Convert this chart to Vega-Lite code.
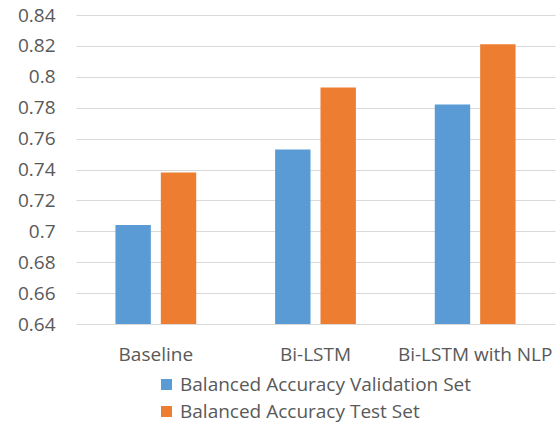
{
  "$schema": "https://vega.github.io/schema/vega-lite/v6.json",
  "autosize": "none",
  "padding": {"left": 76, "top": 15, "right": 5, "bottom": 99},
  "width": 479,
  "height": 309,
  "background": "white",
  "config": {
    "font": "Open Sans",
    "view": {"stroke": null},
    "axis": {"labelFont": "Open Sans", "labelColor": "#595959", "labelFontSize": 19}
  },
  "data": {
    "values": [
      {"model": "Baseline", "set": "Balanced Accuracy Validation Set", "value": 0.704},
      {"model": "Baseline", "set": "Balanced Accuracy Test Set", "value": 0.738},
      {"model": "Bi-LSTM", "set": "Balanced Accuracy Validation Set", "value": 0.753},
      {"model": "Bi-LSTM", "set": "Balanced Accuracy Test Set", "value": 0.793},
      {"model": "Bi-LSTM with NLP", "set": "Balanced Accuracy Validation Set", "value": 0.782},
      {"model": "Bi-LSTM with NLP", "set": "Balanced Accuracy Test Set", "value": 0.821}
    ]
  },
  "mark": {"type": "bar", "clip": true},
  "encoding": {
    "x": {
      "field": "model",
      "type": "nominal",
      "sort": ["Baseline", "Bi-LSTM", "Bi-LSTM with NLP"],
      "scale": {"paddingInner": 0.494, "paddingOuter": 0.247},
      "axis": {"title": null, "labelAngle": 0, "ticks": false, "domain": false, "labelPadding": 21}
    },
    "xOffset": {
      "field": "set",
      "type": "nominal",
      "sort": ["Balanced Accuracy Validation Set", "Balanced Accuracy Test Set"],
      "scale": {"paddingInner": 0.22, "paddingOuter": 0}
    },
    "y": {
      "field": "value",
      "type": "quantitative",
      "scale": {"domain": [0.64, 0.84], "zero": false, "nice": false},
      "axis": {
        "title": null,
        "values": [0.64, 0.66, 0.68, 0.7, 0.72, 0.74, 0.76, 0.78, 0.8, 0.82, 0.84],
        "format": "~g",
        "ticks": false,
        "domain": false,
        "grid": true,
        "gridColor": "#D9D9D9",
        "gridWidth": 1.2,
        "labelPadding": 21
      }
    },
    "color": {
      "field": "set",
      "type": "nominal",
      "scale": {
        "domain": ["Balanced Accuracy Validation Set", "Balanced Accuracy Test Set"],
        "range": ["#5B9BD5", "#ED7D31"]
      },
      "legend": {
        "title": null,
        "orient": "none",
        "legendX": 81,
        "legendY": 360,
        "direction": "vertical",
        "symbolType": "square",
        "symbolSize": 121,
        "symbolStrokeWidth": 0,
        "labelFont": "Open Sans",
        "labelFontSize": 19,
        "labelColor": "#595959",
        "labelOffset": 4,
        "rowPadding": 7,
        "padding": 0,
        "labelLimit": 400
      }
    }
  }
}
